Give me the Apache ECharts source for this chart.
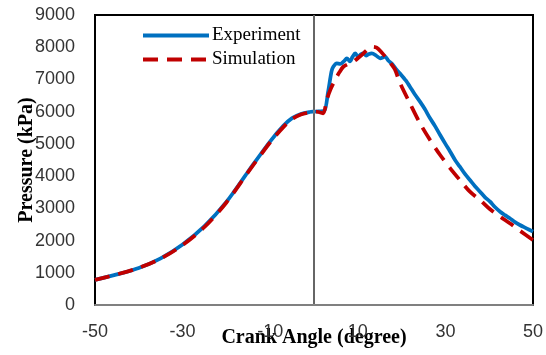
<!DOCTYPE html>
<html>
<head>
<meta charset="utf-8">
<script src="https://cdn.jsdelivr.net/npm/echarts@6/dist/echarts.min.js"></script>
<style>html,body{margin:0;padding:0;background:#fff;}#c{width:546px;height:355px;}</style>
</head>
<body>
<div id="c"></div>
<script>
const xTickLabels = [-50, -30, -10, 10, 30, 50];
const yTicks = [0, 1000, 2000, 3000, 4000, 5000, 6000, 7000, 8000, 9000];

const expAngle = [-50, -45, -40, -35, -30, -25, -20, -15, -10, -7, -5, -3, -1, 0, 1, 2.3, 3.2, 4.0, 4.4, 5.2, 6.0, 6.8, 7.5, 8.2, 8.8, 9.4, 10.1, 10.7, 11.3, 11.9, 12.4, 13.2, 14.3, 15.1, 16.2, 17.0, 17.7, 18.9, 19.6, 21.0, 21.9, 23.0, 24.2, 25.3, 26.5, 27.6, 28.8, 30.0, 31.1, 32.2, 33.3, 34.5, 35.6, 36.8, 37.9, 39.0, 40.2, 41.3, 42.5, 43.6, 44.7, 45.8, 47.0, 48.5, 50];
const expPressure = [780, 950, 1150, 1450, 1880, 2450, 3200, 4150, 5080, 5560, 5800, 5930, 5990, 6000, 6010, 6020, 6600, 7250, 7394, 7500, 7480, 7560, 7656, 7560, 7700, 7811, 7707, 7780, 7811, 7740, 7780, 7811, 7728, 7656, 7707, 7580, 7500, 7294, 7190, 6960, 6776, 6540, 6310, 6080, 5794, 5560, 5276, 5000, 4758, 4500, 4293, 4060, 3880, 3680, 3517, 3350, 3207, 3040, 2896, 2790, 2690, 2580, 2483, 2380, 2275];

const simAngle = [-50, -45, -40, -35, -30, -25, -20, -15, -10, -7, -5, -3, -1, 0, 1, 2.1, 2.9, 3.8, 4.8, 5.8, 6.7, 8.0, 9.0, 10.2, 11.3, 12.3, 13.2, 14.3, 15.5, 16.6, 17.5, 18.5, 19.6, 21.9, 24.2, 26.5, 28.8, 31.1, 33.3, 35.6, 37.9, 40.2, 42.5, 44.7, 47.0, 50];
const simPressure = [780, 950, 1150, 1440, 1860, 2420, 3180, 4130, 5050, 5520, 5770, 5910, 5980, 6000, 5990, 5950, 6362, 6700, 6983, 7220, 7394, 7490, 7552, 7680, 7811, 7940, 8017, 7990, 7830, 7656, 7500, 7300, 6900, 6260, 5640, 5121, 4655, 4242, 3880, 3517, 3259, 2970, 2740, 2536, 2306, 2017];

const expData = expAngle.map((a, i) => [a, expPressure[i]]);
const simData = simAngle.map((a, i) => [a, simPressure[i]]);

const chart = echarts.init(document.getElementById('c'), null, {renderer: 'canvas'});
chart.setOption({
  animation: false,
  backgroundColor: '#fff',
  grid: {left: 95, top: 15, width: 438, height: 290, outerBoundsMode: 'none', containLabel: false, show: true, borderColor: '#000', borderWidth: 2, backgroundColor: 'transparent'},
  legend: {
    orient: 'vertical', left: 136, top: 21, itemWidth: 66, itemHeight: 4, itemGap: 5,
    itemStyle: {opacity: 0},
    lineStyle: {width: 4},
    textStyle: {fontFamily: 'Liberation Serif, Times New Roman, serif', fontSize: 19, color: '#000', padding: [0,0,0,-2]},
    data: ['Experiment', 'Simulation']
  },
  xAxis: {
    type: 'value', min: -50, max: 50, interval: 10,
    name: 'Crank Angle (degree)', nameLocation: 'middle', nameGap: 23, nameMoveOverlap: false,
    nameTextStyle: {fontFamily: 'Liberation Serif, Times New Roman, serif', fontWeight: 'bold', fontSize: 20, color: '#000'},
    axisLine: {show: true, onZero: false, lineStyle: {color: '#808080', width: 2}},
    axisTick: {show: false},
    splitLine: {show: false},
    axisLabel: {
      margin: 18, fontFamily: 'Liberation Sans, Arial, sans-serif', fontSize: 18, color: '#333',
      formatter: v => xTickLabels.indexOf(v) >= 0 ? String(v) : ''
    }
  },
  yAxis: {
    type: 'value', min: yTicks[0], max: yTicks[yTicks.length - 1], interval: 1000,
    name: 'Pressure (kPa)', nameLocation: 'middle', nameGap: 58, nameMoveOverlap: false,
    nameTextStyle: {fontFamily: 'Liberation Serif, Times New Roman, serif', fontWeight: 'bold', fontSize: 20, color: '#000'},
    axisLine: {show: true, lineStyle: {color: '#000', width: 2}},
    axisTick: {show: false},
    splitLine: {show: false},
    axisLabel: {margin: 20, fontFamily: 'Liberation Sans, Arial, sans-serif', fontSize: 18, color: '#333',
      formatter: v => String(v)}
  },
  series: [
    {
      name: 'Experiment', type: 'line', data: expData, showSymbol: false, symbol: 'none', smooth: 0.3,
      lineStyle: {color: '#0070C0', width: 3.75}, itemStyle: {color: '#0070C0'}, z: 3,
      markLine: {
        silent: true, symbol: 'none', label: {show: false},
        lineStyle: {color: '#888', width: 1.5, type: 'solid'},
        data: [{xAxis: 0}]
      }
    },
    {
      name: 'Simulation', type: 'line', data: simData, showSymbol: false, symbol: 'none', smooth: 0.3,
      lineStyle: {color: '#C00000', width: 3.75, type: [15, 9]}, itemStyle: {color: '#C00000'}, z: 4
    }
  ]
});
</script>
</body>
</html>
